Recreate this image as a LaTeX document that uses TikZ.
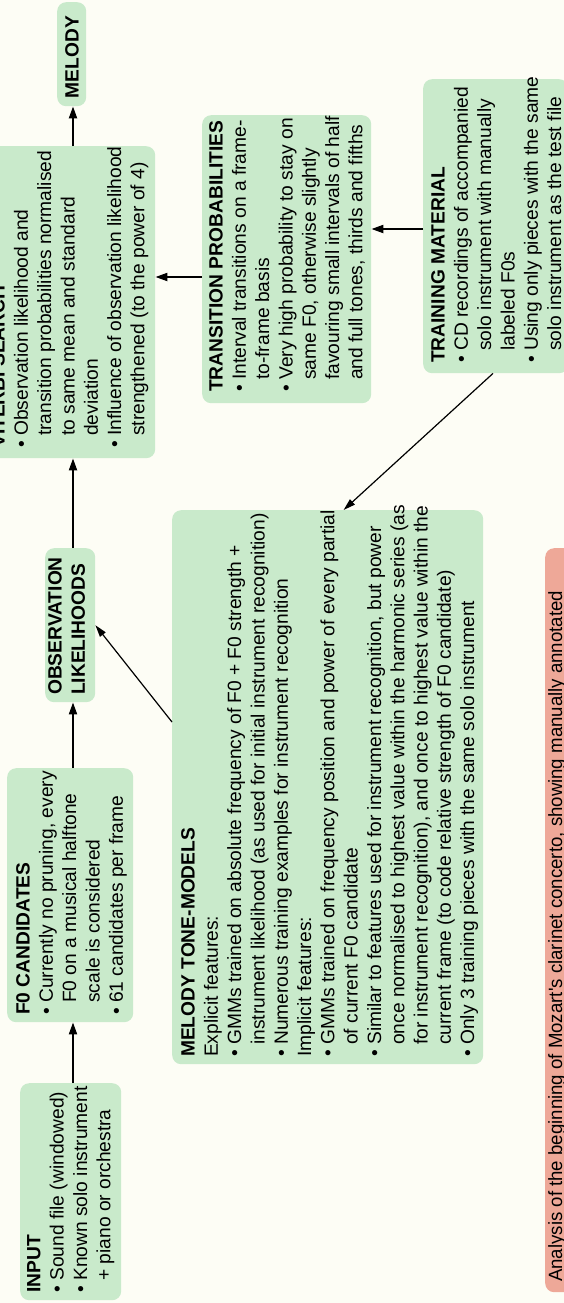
\documentclass[tikz,border=0pt]{standalone}
\usepackage{fontspec}
\setmainfont{Liberation Sans}
\newfontfamily\narrowfont[FakeStretch=0.97]{Liberation Sans}
\usetikzlibrary{arrows.meta,calc}
\definecolor{bgc}{RGB}{253,253,245}
\definecolor{boxgreen}{RGB}{201,234,203}
\definecolor{boxpink}{RGB}{238,168,152}
\newcommand\hng{\hphantom{\textbullet\ }}
\begin{document}
\begin{tikzpicture}[x=1pt,y=-1pt,
  gbox/.style={fill=boxgreen, rounded corners=9pt, inner sep=0pt, draw=none},
  pbox/.style={fill=boxpink, rounded corners=9pt, inner sep=0pt, draw=none},
  txt/.style={rotate=90, anchor=north west, align=left, inner sep=0pt,
    font=\fontsize{19.2}{23.3}\selectfont},
  arr/.style={line width=2pt, -{Triangle[length=12pt,width=8pt]}},
  thinarr/.style={line width=1.2pt, -{Triangle[length=12pt,width=7pt]}}]
\useasboundingbox (0,0) rectangle (564,1303);
\fill[bgc] (0,0) rectangle (564,1303);
\clip (0,0) rectangle (564,1303);

% boxes
\node[gbox, minimum width=101pt, minimum height=217pt, anchor=north west] (input) at (20,1083) {};
\node[gbox, minimum width=126pt, minimum height=254pt, anchor=north west] (f0) at (7,768) {};
\node[gbox, minimum width=50pt, minimum height=154pt, anchor=north west] (obs) at (45,548) {};
\node[gbox, minimum width=172pt, minimum height=312pt, anchor=north west] (viterbi) at (-17,146) {};
\node[gbox, minimum width=29pt, minimum height=104pt, anchor=north west] (melody) at (57,2) {};
\node[gbox, minimum width=169pt, minimum height=288pt, anchor=north west] (trans) at (202,115) {};
\node[gbox, minimum width=145pt, minimum height=294pt, anchor=north west] (train) at (423,79) {};
\node[gbox, minimum width=311pt, minimum height=554pt, anchor=north west] (tone) at (172,510) {};
\node[pbox, minimum width=40pt, minimum height=744pt, anchor=north west] (caption) at (545,548) {};

% texts
\node[txt] (tinput) at (27,1293) {\textbf{INPUT}\\
\textbullet\ Sound file (windowed)\\
\textbullet\ Known solo instrument\\
\hng + piano or orchestra};

\node[txt] (tf0) at (16,1015) {\textbf{F0 CANDIDATES}\\
\textbullet\ Currently no pruning, every\\
\hng F0 on a musical halftone\\
\hng scale is considered\\
\textbullet\ 61 candidates per frame};

\node[txt] (tobs) at (48,695) {\textbf{OBSERVATION}\\
\textbf{LIKELIHOODS}};

\node[txt] (tvit) at (-9,448) {\textbf{VITERBI SEARCH}\\
\textbullet\ Observation likelihood and\\
\hng transition probabilities normalised\\
\hng to same mean and standard\\
\hng deviation\\
\textbullet\ Influence of observation likelihood\\
\hng strengthened (to the power of 4)};

\node[rotate=90, inner sep=0pt, font=\fontsize{19.2}{23.3}\selectfont\bfseries] (tmel) at (72,57) {MELODY};

\node[txt] (ttrans) at (209,392) {\textbf{TRANSITION PROBABILITIES}\\
\textbullet\ Interval transitions on a frame-\\
\hng to-frame basis\\
\textbullet\ Very high probability to stay on\\
\hng same F0, otherwise slightly\\
\hng favouring small intervals of half\\
\hng and full tones, thirds and fifths};

\node[txt] (ttrain) at (431,363) {\textbf{TRAINING MATERIAL}\\
\textbullet\ CD recordings of accompanied\\
\hng solo instrument with manually\\
\hng labeled F0s\\
\textbullet\ Using only pieces with the same\\
\hng solo instrument as the test file};

\node[txt] (ttone) at (181,1057) {\textbf{MELODY TONE-MODELS}\\
Explicit features:\\
\textbullet\ GMMs trained on absolute frequency of F0 + F0 strength +\\
\hng instrument likelihood (as used for initial instrument recognition)\\
\textbullet\ Numerous training examples for instrument recognition\\
Implicit features:\\
\textbullet\ GMMs trained on frequency position and power of every partial\\
\hng of current F0 candidate\\
\textbullet\ Similar to features used for instrument recognition, but power\\
\hng once normalised to highest value within the harmonic series (as\\
\hng for instrument recognition), and once to highest value within the\\
\hng current frame (to code relative strength of F0 candidate)\\
\textbullet\ Only 3 training pieces with the same solo instrument};

\node[rotate=90, anchor=north west, inner sep=0pt, font=\narrowfont\fontsize{19.2}{23}\selectfont] (tcap) at (548,1282) {Analysis of the beginning of Mozart's clarinet concerto, showing manually annotated};

% connectors
\coordinate (spine) at (73,0);
\coordinate (tvy) at (0,277);
\coordinate (tty) at (0,229);
\draw[arr] (input.north -| spine) -- (f0.south -| spine);
\draw[arr] (f0.north -| spine) -- (obs.south -| spine);
\draw[arr] (obs.north -| spine) -- (viterbi.south -| spine);
\draw[arr] (viterbi.north -| spine) -- (melody.south -| spine);
\draw[arr] (trans.west |- tvy) -- (viterbi.east |- tvy);
\draw[arr] (train.west |- tty) -- (trans.east |- tty);
\draw[thinarr] (train.south -| 493,0) -- ($(tone.north west)!0.551!(tone.north east)$);
\draw[thinarr] ([yshift=-212pt]tone.north west) -- (obs.east);
\end{tikzpicture}
\end{document}
